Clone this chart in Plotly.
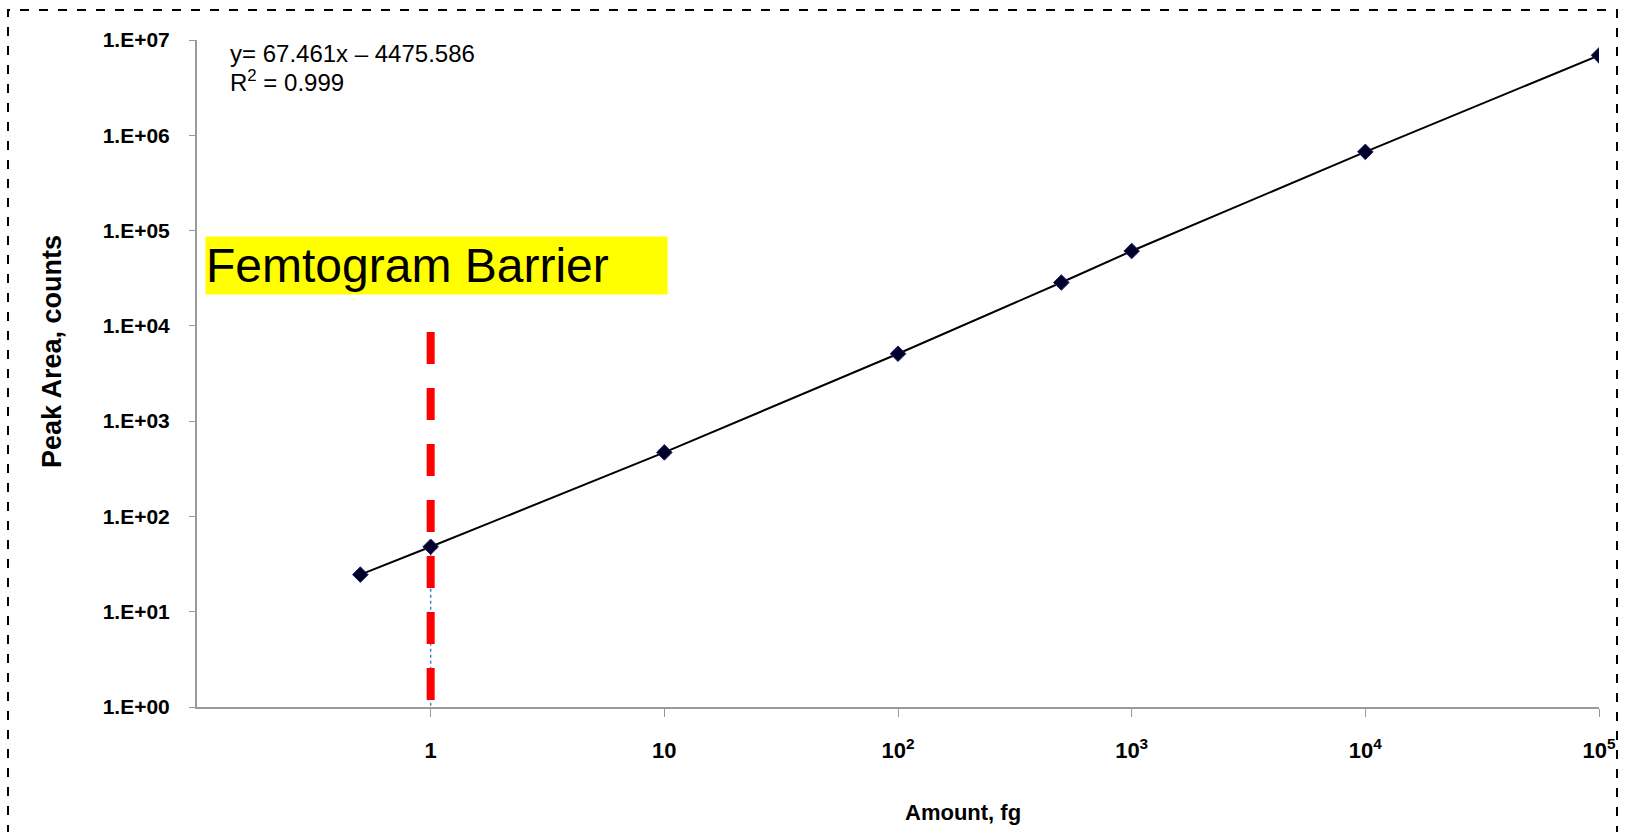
import plotly.graph_objects as go

# ---- data ----
amount_fg = [0.5, 1, 10, 100, 500, 1000, 10000, 100000]
peak_area = [24.5, 48, 470, 5100, 28500, 61000, 670000, 6900000]

drop_x = [1, 1]
drop_y = [48, 1]

barrier_x = [1, 1]
barrier_y = [8600, 1]

x_tickvals = [1, 10, 100, 1000, 10000, 100000]
x_ticktext = ["1", "10", "10<sup>2</sup>", "10<sup>3</sup>", "10<sup>4</sup>", "10<sup>5</sup>"]
y_tickvals = [1, 10, 100, 1000, 10000, 100000, 1000000, 10000000]
y_ticktext = ["1.E+00", "1.E+01", "1.E+02", "1.E+03", "1.E+04", "1.E+05", "1.E+06", "1.E+07"]

equation_text = "y= 67.461x \u2013 4475.586"
r2_text = "R<sup>2</sup> = 0.999"
barrier_text = "Femtogram Barrier"
x_title = "Amount, fg"
y_title = "Peak Area, counts"

FONT = "Liberation Sans, Arial, sans-serif"
W, H = 1625, 832
ML, MR, MT, MB = 197, 26, 40, 125
PW, PH = W - ML - MR, H - MT - MB


def px(xpix):
    return (xpix - ML) / PW


def py(ypix):
    return (H - MB - ypix) / PH


fig = go.Figure()

# blue dotted drop line
fig.add_trace(go.Scatter(x=drop_x, y=drop_y, mode="lines",
                         line=dict(color="#4a7fc0", width=1.5, dash="dot"),
                         hoverinfo="skip", showlegend=False))

# red dashed barrier
fig.add_trace(go.Scatter(x=barrier_x, y=barrier_y, mode="lines",
                         line=dict(color="#ff0000", width=8, dash="32px,24px"),
                         hoverinfo="skip", showlegend=False))

# calibration series
fig.add_trace(go.Scatter(x=amount_fg, y=peak_area, mode="lines+markers",
                         line=dict(color="black", width=2),
                         marker=dict(symbol="diamond", size=12, color="#000028",
                                     line=dict(color="#1c2370", width=1)),
                         showlegend=False))

fig.update_layout(
    width=W, height=H,
    margin=dict(l=ML, r=MR, t=MT, b=MB, autoexpand=False),
    paper_bgcolor="white", plot_bgcolor="white",
    font=dict(family=FONT, color="black"),
    showlegend=False,
)

fig.update_xaxes(type="log", range=[-1, 5], tickvals=x_tickvals, ticktext=x_ticktext,
                 automargin=False,
                 showgrid=False, zeroline=False, showline=True, linecolor="#9a9a9a", linewidth=2,
                 ticks="outside", ticklen=8, tickcolor="#9a9a9a", tickwidth=1,
                 tickfont=dict(size=22, weight="bold", family=FONT), ticklabelstandoff=15)
fig.update_yaxes(type="log", range=[0, 7], tickvals=y_tickvals, ticktext=y_ticktext,
                 automargin=False,
                 showgrid=False, zeroline=False, showline=True, linecolor="#9a9a9a", linewidth=2,
                 ticks="outside", ticklen=6, tickcolor="#9a9a9a", tickwidth=1,
                 tickfont=dict(size=21, weight="bold", family=FONT), ticklabelstandoff=15)

annotations = [
    dict(x=px(228), y=py(53), xref="paper", yref="paper", xanchor="left", yanchor="middle",
         text=equation_text, showarrow=False, font=dict(size=24, family=FONT, color="black")),
    dict(x=px(228), y=py(81), xref="paper", yref="paper", xanchor="left", yanchor="middle",
         text=r2_text, showarrow=False, font=dict(size=24, family=FONT, color="black")),
    dict(x=px(205), y=py(236), xref="paper", yref="paper", xanchor="left", yanchor="top",
         text=barrier_text, showarrow=False, bgcolor="#ffff00", borderpad=0,
         width=461, height=57, align="left", valign="middle",
         font=dict(size=48, family=FONT, color="black")),
    dict(x=px(963), y=py(812), xref="paper", yref="paper", xanchor="center", yanchor="middle",
         text=x_title, showarrow=False, font=dict(size=22, family=FONT, weight="bold", color="black")),
    dict(x=px(52), y=py(352), xref="paper", yref="paper", xanchor="center", yanchor="middle",
         text=y_title, textangle=-90, showarrow=False,
         font=dict(size=27, family=FONT, weight="bold", color="black")),
]
fig.update_layout(annotations=annotations)

# dashed outer border
fig.add_shape(type="rect", xref="paper", yref="paper",
              x0=px(8), x1=px(1617), y0=py(860), y1=py(10),
              line=dict(color="black", width=2, dash="9px,10px"), fillcolor="rgba(0,0,0,0)",
              layer="above")

fig.write_html("out.html")
